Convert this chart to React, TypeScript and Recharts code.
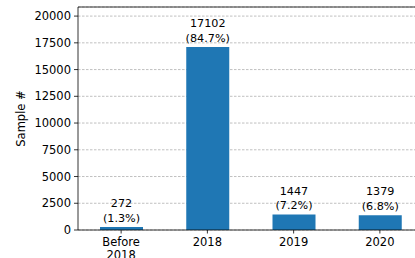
import React from "react";
import { BarChart, Bar, XAxis, YAxis, CartesianGrid, LabelList, ReferenceLine } from "recharts";

const categories = ["Before 2018", "2018", "2019", "2020"];
const counts = [272, 17102, 1447, 1379];
const yTicks = [0, 2500, 5000, 7500, 10000, 12500, 15000, 17500, 20000];
const yMax = 20850;

const total = counts.reduce((a, b) => a + b, 0);
const data = categories.map((c, i) => ({
  name: c,
  value: counts[i],
  pct: ((counts[i] / total) * 100).toFixed(1) + "%",
}));

const FONT = "DejaVu Sans";

const XTick = (props: any) => {
  const { x, y, payload } = props;
  const lines = String(payload.value).split(" ");
  return (
    <text x={x} y={y} textAnchor="middle" fontFamily={FONT} fontSize={11.5} fill="#000">
      {lines.map((l: string, i: number) => (
        <tspan key={i} x={x} dy={i === 0 ? "0.71em" : "1.15em"}>
          {l}
        </tspan>
      ))}
    </text>
  );
};

const BarLabel = (props: any) => {
  const { x, y, width, index } = props;
  const d = data[index];
  const cx = x + width / 2;
  const b2 = y - 5.5;
  return (
    <g fontFamily={FONT} fontSize={11.2} fill="#000" textAnchor="middle">
      <text x={cx} y={b2 - 14.5}>{d.value}</text>
      <text x={cx} y={b2}>({d.pct})</text>
    </g>
  );
};

export default function App() {
  return (
    <div style={{ position: "fixed", left: 0, top: 0, width: 415, height: 258, overflow: "hidden", background: "#fff" }}>
      <BarChart
        width={432}
        height={258}
        data={data}
        margin={{ top: 7, right: 9, bottom: 0, left: 0 }}
        barCategoryGap="25%"
      >
        <CartesianGrid vertical={false} stroke="#b0b0b0" strokeDasharray="2.5 1.5" strokeWidth={0.8} />
        <XAxis
          dataKey="name"
          tick={<XTick />}
          tickSize={3.5}
          tickMargin={4.5}
          axisLine={{ stroke: "#000", strokeWidth: 0.8 }}
          tickLine={{ stroke: "#000", strokeWidth: 0.8 }}
          interval={0}
          height={28}
        />
        <YAxis
          width={78}
          domain={[0, yMax]}
          ticks={yTicks}
          tickSize={4}
          tickMargin={3}
          tick={{ fontFamily: FONT, fontSize: 11.5, fill: "#000" }}
          axisLine={{ stroke: "#000", strokeWidth: 0.8 }}
          tickLine={{ stroke: "#000", strokeWidth: 0.8 }}
          allowDataOverflow
          label={{
            value: "Sample #",
            angle: -90,
            position: "insideLeft",
            offset: 0,
            style: { fontFamily: FONT, fontSize: 11.5, fill: "#000", textAnchor: "middle" },
            dx: 21,
          }}
        />
        <ReferenceLine y={yMax} stroke="#000" strokeWidth={0.8} />
        <Bar dataKey="value" fill="#1f77b4" isAnimationActive={false} barSize={43}>
          <LabelList dataKey="value" content={<BarLabel />} />
        </Bar>
      </BarChart>
    </div>
  );
}
